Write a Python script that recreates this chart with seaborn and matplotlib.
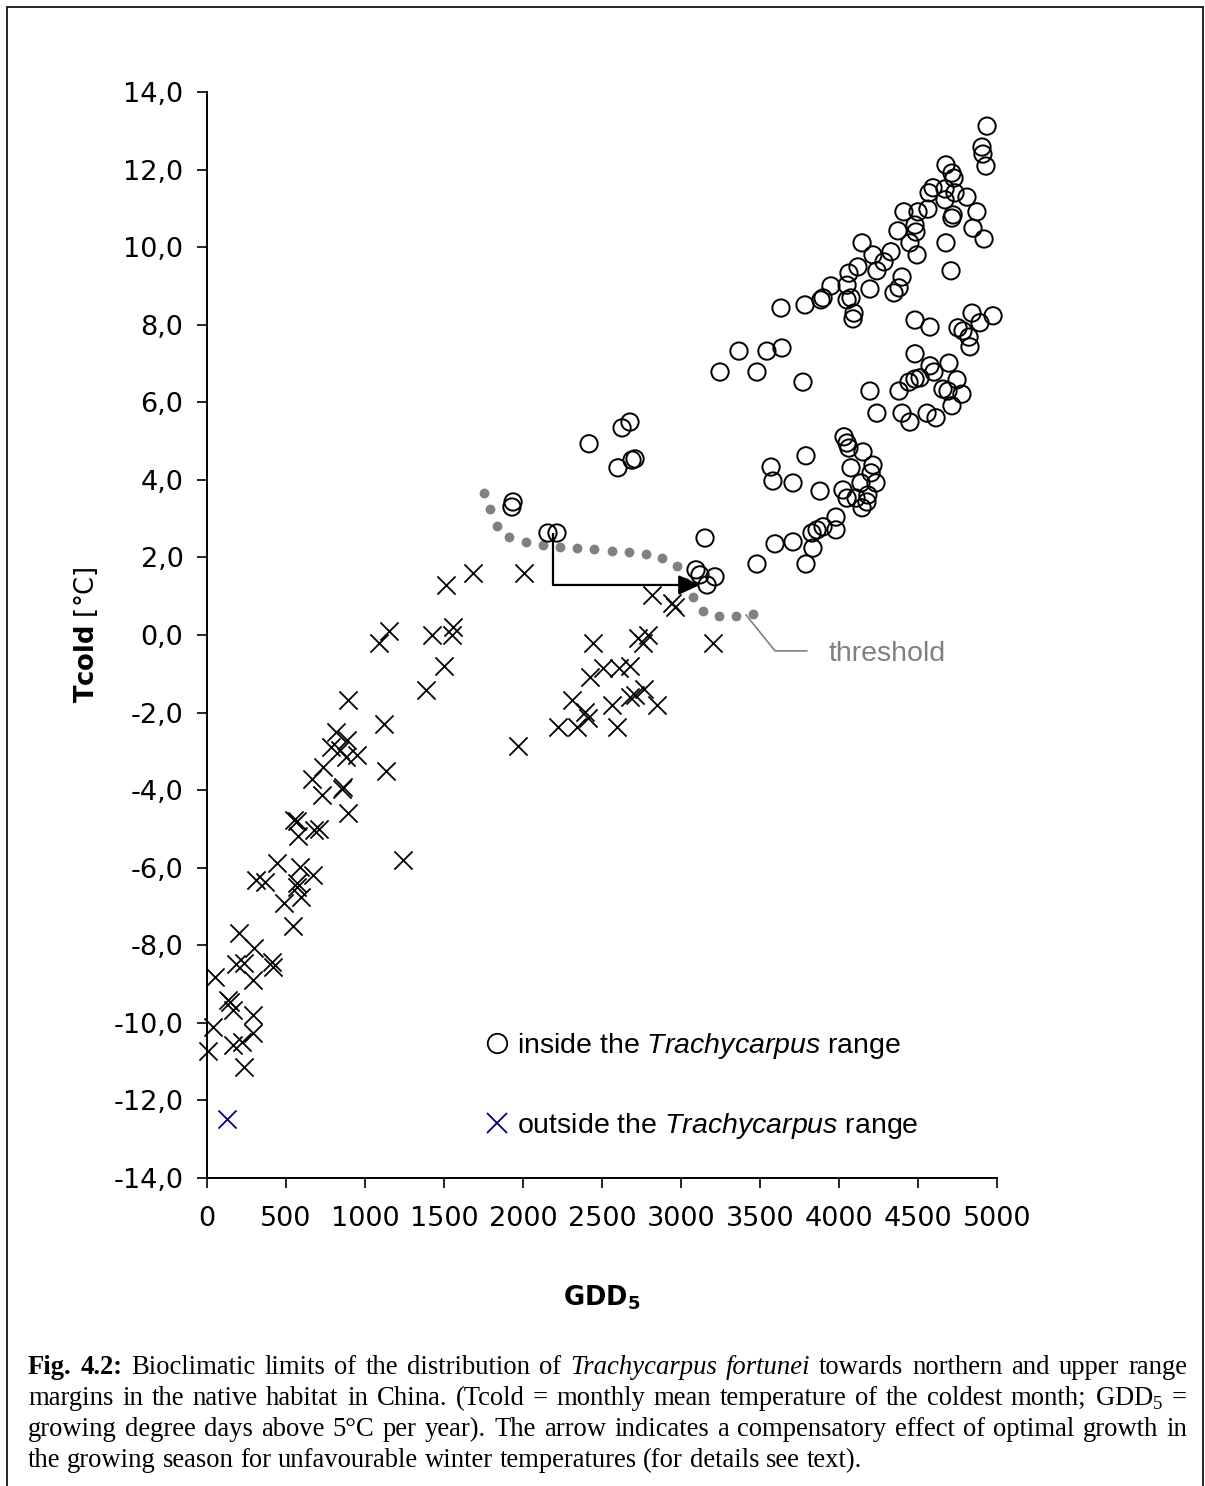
import numpy as np
import pandas as pd
import matplotlib
matplotlib.use("Agg")
import matplotlib.pyplot as plt
import seaborn as sns
from matplotlib.lines import Line2D
from matplotlib.patches import Rectangle
from matplotlib.ticker import FuncFormatter

# ---------------- data ----------------
inside_gdd = [4937, 4905, 4911, 4930, 4677, 4715, 4728, 4595, 4570, 4671,
              4734, 4810, 4671, 4722, 4715, 4873, 4848, 4918, 4677, 4709,
              4411, 4500, 4563, 4481, 4487, 4373, 4449, 4494, 4146, 4215,
              4329, 4285, 4240, 4120, 4063, 4051, 3949, 4196, 4399, 4380,
              4348, 4076, 4051, 3899, 3886, 3785, 3633, 4095, 4089, 4481,
              4576, 4842, 4975, 4892, 4753, 4785, 4823, 4829, 3367, 3544,
              3639, 3247, 3481, 3772, 4481, 4576, 4601, 4696, 4196, 4380,
              4443, 4481, 4513, 4658, 4690, 4747, 4778, 4715, 4240, 4399,
              4449, 4557, 4614, 4032, 4051, 4063, 4152, 3791, 3570, 3582,
              3709, 3880, 4076, 4215, 4203, 4234, 4139, 4025, 4051, 4108,
              4183, 4177, 4146, 3981, 3981, 3899, 3861, 3829, 3709, 3595,
              3835, 3152, 3481, 3791, 2677, 2627, 2418, 2709, 2690, 2601,
              1937, 1930, 2158, 2215, 3095, 3120, 3215, 3165]
inside_tcold = [13.12, 12.58, 12.40, 12.09, 12.12, 11.91, 11.78, 11.53, 11.40, 11.50,
                11.40, 11.29, 11.22, 10.83, 10.75, 10.91, 10.49, 10.21, 10.11, 9.39,
                10.91, 10.91, 10.98, 10.57, 10.39, 10.42, 10.11, 9.80, 10.11, 9.80,
                9.88, 9.62, 9.39, 9.49, 9.33, 9.02, 9.00, 8.92, 9.23, 8.95,
                8.82, 8.69, 8.64, 8.69, 8.64, 8.51, 8.43, 8.30, 8.15, 8.12,
                7.94, 8.30, 8.23, 8.05, 7.92, 7.84, 7.68, 7.43, 7.32, 7.32,
                7.40, 6.78, 6.78, 6.52, 7.25, 6.94, 6.78, 7.01, 6.29, 6.29,
                6.52, 6.60, 6.63, 6.34, 6.29, 6.58, 6.21, 5.91, 5.72, 5.72,
                5.49, 5.72, 5.60, 5.11, 4.95, 4.82, 4.72, 4.62, 4.33, 3.97,
                3.92, 3.71, 4.31, 4.38, 4.18, 3.92, 3.92, 3.74, 3.53, 3.53,
                3.61, 3.43, 3.28, 3.04, 2.71, 2.79, 2.71, 2.63, 2.40, 2.35,
                2.24, 2.50, 1.83, 1.83, 5.49, 5.34, 4.93, 4.54, 4.51, 4.31,
                3.43, 3.30, 2.63, 2.63, 1.68, 1.55, 1.50, 1.29]

outside_gdd = [1684, 1513, 2006, 1152, 1089, 1424, 1557, 1551, 1500, 1386,
               892, 1120, 1133, 816, 886, 785, 842, 880, 949, 734,
               665, 728, 861, 854, 892, 551, 570, 576, 677, 709,
               1240, 443, 589, 310, 367, 671, 570, 570, 595, 487,
               544, 203, 297, 234, 184, 411, 418, 51, 291, 146,
               165, 291, 38, 291, 222, 165, 6, 234,
               2816, 2943, 2962, 2443, 2728, 2791, 2759, 3203, 2424, 2506, 2608, 2677,
               2310, 2563, 2677, 2709, 2766, 2848, 2392, 2411, 2221, 2595, 2342, 1968,
               133]
outside_tcold = [1.60, 1.29, 1.60, 0.10, -0.21, 0.00, 0.21, 0.00, -0.80, -1.42,
                 -1.67, -2.29, -3.50, -2.50, -2.71, -2.89, -2.96, -3.14, -3.09, -3.40,
                 -3.71, -4.12, -3.92, -3.97, -4.59, -4.77, -4.79, -5.18, -5.03, -5.00,
                 -5.80, -5.88, -5.98, -6.31, -6.37, -6.19, -6.39, -6.50, -6.75, -6.91,
                 -7.50, -7.68, -8.07, -8.45, -8.48, -8.43, -8.56, -8.82, -8.89, -9.46,
                 -9.67, -9.80, -10.10, -10.26, -10.49, -10.57, -10.72, -11.14,
                 1.03, 0.83, 0.72, -0.21, -0.08, 0.00, -0.21, -0.21, -1.08, -0.85, -0.85, -0.80,
                 -1.67, -1.80, -1.60, -1.55, -1.39, -1.80, -1.98, -2.14, -2.37, -2.37, -2.37, -2.86,
                 -9.41]

blue_gdd = [127]
blue_tcold = [-12.48]

threshold_gdd = [1753, 1791, 1835, 1911, 2019, 2127, 2234, 2342, 2449, 2563,
                 2671, 2778, 2880, 2975, 3025, 3076, 3139, 3240, 3348, 3456]
threshold_tcold = [3.66, 3.25, 2.81, 2.53, 2.40, 2.32, 2.27, 2.24, 2.22, 2.17,
                   2.14, 2.09, 1.99, 1.78, 1.37, 0.98, 0.62, 0.49, 0.49, 0.54]

arrow_gdd = [2190, 2190, 3120]
arrow_tcold = [2.63, 1.29, 1.29]

leader_gdd = [3411, 3595, 3797]
leader_tcold = [0.52, -0.41, -0.41]
threshold_label_pos = (3937, -0.50)

y_ticks = list(range(-14, 15, 2))
x_ticks = list(range(0, 5001, 500))

# ---------------- style ----------------
sns.set_theme(style="white")
plt.rcParams["font.family"] = ["DejaVu Sans"]
plt.rcParams["mathtext.fontset"] = "custom"
plt.rcParams["mathtext.rm"] = "Liberation Serif"
plt.rcParams["mathtext.it"] = "Liberation Sans:italic"
plt.rcParams["mathtext.bf"] = "DejaVu Sans:bold"
for k in ["text.color", "axes.labelcolor", "xtick.color", "ytick.color", "axes.edgecolor"]:
    plt.rcParams[k] = "black"

W, H = 1205, 1486
fig = plt.figure(figsize=(W / 100, H / 100), dpi=100)
fig.patch.set_facecolor("white")
ax = fig.add_axes([207 / W, 1 - 1178 / H, 790 / W, 1086 / H])

inside = pd.DataFrame({"GDD5": inside_gdd, "Tcold": inside_tcold})
outside = pd.DataFrame({"GDD5": outside_gdd, "Tcold": outside_tcold})
blue = pd.DataFrame({"GDD5": blue_gdd, "Tcold": blue_tcold})
thr = pd.DataFrame({"GDD5": threshold_gdd, "Tcold": threshold_tcold})

sns.scatterplot(data=thr, x="GDD5", y="Tcold", ax=ax, color="#808080", s=50,
                linewidth=0, marker="o", zorder=2, legend=False, clip_on=False)
sns.scatterplot(data=inside, x="GDD5", y="Tcold", ax=ax, marker="o", s=155,
                facecolors="none", edgecolor="black", linewidth=1.4, zorder=3,
                legend=False, clip_on=False)
sns.scatterplot(data=outside, x="GDD5", y="Tcold", ax=ax, marker="x", s=170,
                color="black", linewidth=1.3, zorder=3, legend=False, clip_on=False)
sns.scatterplot(data=blue, x="GDD5", y="Tcold", ax=ax, marker="x", s=170,
                color="#000080", linewidth=1.3, zorder=3, legend=False, clip_on=False)

# arrow
ax.plot(arrow_gdd[:2], arrow_tcold[:2], color="black", lw=1.6, zorder=5,
        solid_capstyle="butt")
ax.annotate("", xy=(arrow_gdd[2], arrow_tcold[2]), xytext=(arrow_gdd[1], arrow_tcold[1]),
            arrowprops=dict(arrowstyle="-|>,head_length=0.65,head_width=0.3",
                            color="black", lw=1.6, shrinkA=0, shrinkB=0,
                            mutation_scale=20), zorder=5)

# threshold leader
ax.plot(leader_gdd, leader_tcold, color="#808080", lw=1.2, zorder=4)
ax.text(threshold_label_pos[0], threshold_label_pos[1], "threshold", color="#808080",
        fontsize=20.5, family="Liberation Sans", va="center", ha="left")

# axes
ax.set_xlim(0, 5000)
ax.set_ylim(-14, 14)
ax.set_xticks(x_ticks)
ax.set_yticks(y_ticks)
ax.yaxis.set_major_formatter(FuncFormatter(lambda v, p: f"{v:.1f}".replace(".", ",")))
ax.xaxis.set_major_formatter(FuncFormatter(lambda v, p: f"{int(v)}"))
sns.despine(ax=ax)
for s in ["left", "bottom"]:
    ax.spines[s].set_linewidth(1.4)
    ax.spines[s].set_color("black")
ax.tick_params(axis="both", bottom=True, left=True, direction="out", length=7,
               width=1.2, labelsize=19.5, colors="black")
ax.tick_params(axis="y", pad=10)
ax.tick_params(axis="x", pad=13)

ax.set_xlabel(r"$\mathbf{GDD_5}$", fontsize=18.5)
ax.set_ylabel(r"$\mathbf{Tcold}$ [°C]", fontsize=18.5)
ax.xaxis.set_label_coords(0.5, -0.097)
ax.yaxis.set_label_coords(-0.136, 0.5)

# legend
handles = [Line2D([], [], ls="none", marker="o", ms=14, mfc="none", mec="black", mew=1.3),
           Line2D([], [], ls="none", marker="x", ms=15, color="#000080", mew=1.3)]
labels = [r"inside the $\mathit{Trachycarpus}$ range",
          r"outside the $\mathit{Trachycarpus}$ range"]
ax.legend(handles, labels, loc="upper left", bbox_to_anchor=(0.353, 0.1355), frameon=False,
          prop={"family": "Liberation Sans", "size": 20.5}, handlelength=0.8,
          handletextpad=0.3, labelspacing=1.75, borderpad=0, borderaxespad=0)

# border
fig.add_artist(Rectangle((7 / W, -0.01), (1203 - 7) / W, (1486 - 7) / H + 0.01,
                         transform=fig.transFigure, fill=False, edgecolor="black", lw=1.2))

# caption
fig.canvas.draw()
renderer = fig.canvas.get_renderer()
cap_fs = 19.2
caption_lines = [
    ([("Fig. 4.2:", "bold"), ("Bioclimatic limits of the distribution of", "normal"),
      ("Trachycarpus fortunei", "italic"), ("towards northern and upper range", "normal")], 1374, True),
    ([("margins in the native habitat in China. (Tcold = monthly mean temperature of the coldest month; GDD$_5$ =", "normal")], 1405, True),
    ([("growing degree days above 5°C per year). The arrow indicates a compensatory effect of optimal growth in", "normal")], 1436, True),
    ([("the growing season for unfavourable winter temperatures (for details see text).", "normal")], 1467, False),
]
for segs, base, justify in caption_lines:
    items = []
    for txt, st in segs:
        for w in txt.split(" "):
            t = fig.text(0, 1 - base / H, w, fontsize=cap_fs, family="Liberation Serif",
                         weight="bold" if st == "bold" else "normal",
                         style="italic" if st == "italic" else "normal",
                         va="baseline", ha="left", color="black")
            items.append(t)
    widths = [t.get_window_extent(renderer).width for t in items]
    x_left, x_right = 28, 1187
    if justify:
        gap = (x_right - x_left - sum(widths)) / (len(items) - 1)
    else:
        gap = cap_fs * 100 / 72 * 0.25
    x = x_left
    for t, w in zip(items, widths):
        t.set_x(x / W)
        x += w + gap

fig.savefig("out.png", dpi=100, facecolor="white")
